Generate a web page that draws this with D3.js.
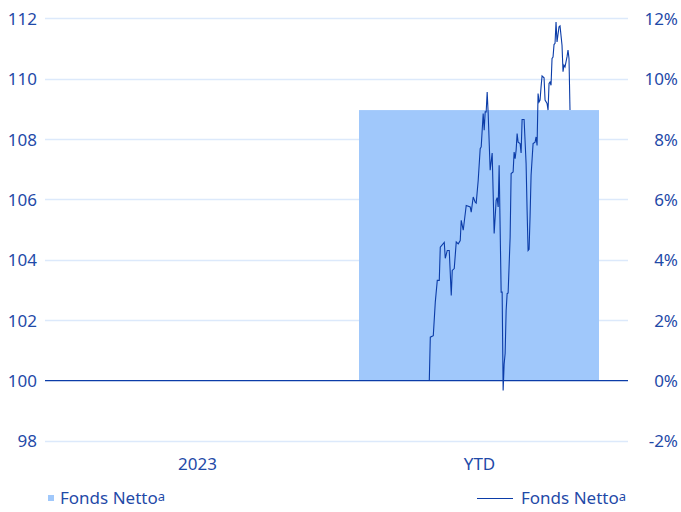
<!DOCTYPE html>
<html>
<head>
<meta charset="utf-8">
<script src="https://cdn.jsdelivr.net/npm/d3@7"></script>
<style>
  body { margin: 0; background: #fff; }
  text { font-family: "Noto Sans", "Open Sans", sans-serif; fill: #1f4aa8; }
</style>
</head>
<body>
<div id="chart"></div>
<script>
var width = 681;
var height = 512;
var gridLeft = 45;
var gridRight = 628;
var barColor = '#a0c8fb';
var lineColor = '#0b3ca8';
var gridColor = '#dce9fb';

// data
var categories = ['2023', 'YTD'];
var barValues = [null, 8.96];            // % performance
var leftTicks = [98, 100, 102, 104, 106, 108, 110, 112];
var rightTicks = [-2, 0, 2, 4, 6, 8, 10, 12];
// index path over the YTD period (trading day, index level)
var lineDays = [0, 1, 4, 6, 8, 10, 11, 15, 16, 18, 20, 22, 23, 25, 27, 29, 31, 32, 34, 37,
  41, 42, 44, 46, 47, 49, 51, 52, 54, 55, 56, 57, 58, 59, 61, 63, 65, 67, 68, 69,
  70, 72, 73, 74, 75, 76, 77, 78, 79, 81, 82, 84, 85, 86, 87, 88, 89, 91, 92, 93,
  95, 97, 98, 99, 100, 101, 102, 104, 106, 107, 108, 109, 110, 111, 112, 113, 115, 116, 118, 119,
  120, 121, 122, 123, 124, 125, 126, 127, 128, 130, 131, 133, 134, 135, 136, 138, 139, 140, 141];
var lineValues = [100.00, 101.44, 101.49, 102.60, 103.32, 103.32, 104.42, 104.58, 104.05, 104.31, 104.31, 102.82, 103.65, 103.71, 104.59, 104.53, 104.64, 105.31, 104.98, 105.80,
  105.75, 105.58, 106.08, 105.91, 105.88, 106.63, 107.68, 107.74, 108.85, 108.29, 108.90, 108.90, 109.56, 108.85, 106.97, 107.54, 104.87, 105.97, 106.06, 105.75,
  107.13, 102.93, 102.93, 99.67, 100.55, 100.90, 102.32, 102.88, 102.90, 104.75, 106.86, 106.91, 107.57, 107.35, 107.63, 108.18, 107.90, 107.85, 107.54, 108.65,
  108.65, 107.19, 105.64, 104.31, 104.35, 105.46, 106.80, 107.85, 107.90, 108.07, 107.79, 109.51, 109.23, 109.29, 109.73, 110.09, 110.03, 109.29, 109.18, 108.96,
  109.84, 109.89, 109.78, 110.67, 110.72, 111.13, 111.17, 111.88, 111.22, 111.72, 111.75, 111.11, 110.23, 110.45, 110.39, 110.72, 110.95, 110.67, 108.96];
var legendLabel = 'Fonds Netto';

var svg = d3.select('#chart').append('svg')
      .attr('width', width)
      .attr('height', height);

// scales
var yLeft = d3.scaleLinear().domain([98, 112]).range([441, 18.3]);
var yRight = d3.scaleLinear().domain([-2, 12]).range([441, 18.3]);
var xCat = d3.scalePoint().domain(categories).range([56, 620]).padding(0.5);
var barWidth = 240;
var xDay = d3.scaleLinear().domain([0, 141]).range([429.3, 570]);

// gridlines (right axis ticks)
svg.append('g').selectAll('line')
      .data(rightTicks.filter(d => d !== 0))
      .enter().append('line')
      .attr('x1', gridLeft)
      .attr('x2', gridRight)
      .attr('y1', d => Math.round(yRight(d)) + 0.5)
      .attr('y2', d => Math.round(yRight(d)) + 0.5)
      .style('stroke', gridColor)
      .style('stroke-width', 1.3);

// bars
svg.append('g').selectAll('rect')
      .data(categories.map((c, i) => ({cat: c, v: barValues[i]})).filter(d => d.v != null))
      .enter().append('rect')
      .attr('x', d => xCat(d.cat) - barWidth / 2)
      .attr('width', barWidth)
      .attr('y', d => yRight(d.v))
      .attr('height', d => yRight(0) - yRight(d.v))
      .style('fill', barColor);

// zero line
svg.append('line')
      .attr('x1', gridLeft)
      .attr('x2', gridRight)
      .attr('y1', yRight(0))
      .attr('y2', yRight(0))
      .style('stroke', lineColor)
      .style('stroke-width', 1.3);

// line series
var line = d3.line()
      .x((d, i) => xDay(lineDays[i]))
      .y(d => yLeft(d));
svg.append('path')
      .datum(lineValues)
      .attr('d', line)
      .style('fill', 'none')
      .style('stroke', lineColor)
      .style('stroke-width', 1.1)
      .style('stroke-linejoin', 'miter');

// left axis labels
var yAxisL = d3.axisLeft(yLeft).tickValues(leftTicks).tickSize(0).tickPadding(0);
var gL = svg.append('g')
      .attr('transform', 'translate(37,0)')
      .call(yAxisL);
gL.select('.domain').remove();
gL.selectAll('text').style('font-size', '17px').attr('dy', '0.35em').style('fill', '#1f4aa8');

// right axis labels
var yAxisR = d3.axisLeft(yRight).tickValues(rightTicks).tickSize(0).tickPadding(0)
      .tickFormat(d => d + '%');
var gR = svg.append('g')
      .attr('transform', 'translate(678,0)')
      .call(yAxisR);
gR.select('.domain').remove();
gR.selectAll('text').style('font-size', '17px').attr('dy', '0.35em').style('fill', '#1f4aa8');

// category labels
var xAxis = d3.axisBottom(xCat).tickSize(0).tickPadding(0);
var gX = svg.append('g')
      .attr('transform', 'translate(0,458)')
      .call(xAxis);
gX.select('.domain').remove();
gX.selectAll('text').style('font-size', '17px').attr('dy', '0.71em').style('fill', '#1f4aa8');

// legend
var legL = svg.append('g').attr('transform', 'translate(48,498)');
legL.append('rect')
      .attr('x', 0).attr('y', -3)
      .attr('width', 6).attr('height', 6)
      .style('fill', barColor);
var tL = legL.append('text')
      .attr('x', 12).attr('y', 0).attr('dy', '0.35em')
      .style('font-size', '17px');
tL.append('tspan').text(legendLabel);
tL.append('tspan').attr('dy', '-0.25em').style('font-size', '13px').text('a');

var legR = svg.append('g').attr('transform', 'translate(477,498)');
legR.append('line')
      .attr('x1', 0).attr('x2', 36)
      .attr('y1', 0.5).attr('y2', 0.5)
      .style('stroke', lineColor)
      .style('stroke-width', 1.1);
var tR = legR.append('text')
      .attr('x', 44).attr('y', 0).attr('dy', '0.35em')
      .style('font-size', '17px');
tR.append('tspan').text(legendLabel);
tR.append('tspan').attr('dy', '-0.25em').style('font-size', '13px').text('a');
</script>
</body>
</html>
